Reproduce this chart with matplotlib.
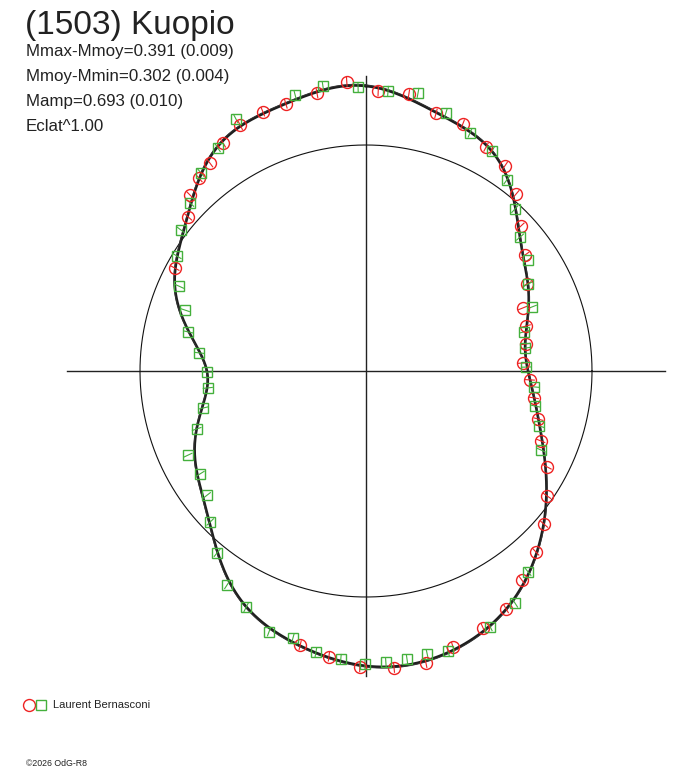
import numpy as np
import matplotlib.pyplot as plt

plt.rcParams['font.family'] = ['Liberation Sans', 'DejaVu Sans']

# Polar lightcurve of (1503) Kuopio: angle = rotational phase (deg, clockwise
# from top), radius = relative flux (mean flux = 1, the reference circle)
curve_phase = np.arange(0, 360, 15)
curve_flux = [1.261, 1.186, 1.119, 0.947, 0.823, 0.735, 0.717, 0.788,
              0.920, 1.084, 1.226, 1.301, 1.305, 1.243, 1.142, 0.973,
              0.867, 0.761, 0.704, 0.832, 0.969, 1.084, 1.208, 1.239]

red_phase = [310.9, 315.0, 319.1, 323.1, 327.9, 332.9, 338.3, 343.3, 350.0,
             356.2, 2.5, 8.8, 15.2, 21.4, 28.2, 34.1, 40.3, 46.9, 53.9, 61.6,
             68.1, 74.3, 80.4, 87.1, 93.1, 99.1, 105.6, 111.8, 117.9, 124.6,
             130.7, 136.8, 143.3, 149.5, 155.5, 162.5, 168.4, 174.6, 181.2,
             187.4, 193.5, 298.3]
red_flux = [1.040, 1.102, 1.128, 1.150, 1.190, 1.221, 1.235, 1.235, 1.248,
            1.283, 1.239, 1.239, 1.181, 1.173, 1.124, 1.097, 1.027, 0.938,
            0.872, 0.810, 0.748, 0.735, 0.717, 0.695, 0.726, 0.752, 0.792,
            0.832, 0.907, 0.973, 1.040, 1.097, 1.155, 1.221, 1.248, 1.279,
            1.319, 1.319, 1.310, 1.274, 1.248, 0.960]

green_phase = [332.7, 345.6, 351.4, 358.4, 4.5, 10.6, 320.2, 326.4, 313.7,
               307.3, 301.3, 294.4, 288.6, 282.4, 276.2, 269.6, 263.9, 257.2,
               251.1, 244.7, 238.2, 232.0, 225.9, 219.3, 213.0, 206.9, 200.4,
               195.3, 190.1, 185.0, 180.2, 176.1, 171.9, 167.8, 163.7, 154.1,
               95.4, 101.7, 107.6, 114.3, 141.1, 147.3, 17.2, 23.6, 29.8,
               36.4, 42.6, 49.0, 55.6, 61.8, 68.9, 76.1, 81.8, 88.6]
green_flux = [1.257, 1.261, 1.274, 1.257, 1.243, 1.252, 1.142, 1.186, 1.075,
              1.031, 0.978, 0.907, 0.845, 0.805, 0.743, 0.704, 0.704, 0.739,
              0.792, 0.872, 0.863, 0.894, 0.960, 1.040, 1.128, 1.173, 1.230,
              1.226, 1.265, 1.279, 1.296, 1.292, 1.288, 1.283, 1.292, 1.257,
              0.748, 0.765, 0.805, 0.850, 1.142, 1.221, 1.195, 1.150, 1.124,
              1.049, 0.973, 0.903, 0.867, 0.814, 0.788, 0.721, 0.712, 0.708]

title = "(1503) Kuopio"
info_lines = ["Mmax-Mmoy=0.391 (0.009)", "Mmoy-Mmin=0.302 (0.004)",
              "Mamp=0.693 (0.010)", "Eclat^1.00"]
observer = "Laurent Bernasconi"
credit = "\u00a92026 OdG-R8"

RED = '#ee2222'
GREEN = '#44b03c'


def to_xy(phase, flux):
    t = np.radians(np.asarray(phase))
    f = np.asarray(flux)
    return f * np.sin(t), f * np.cos(t)


def smooth_curve(flux, n=720):
    # periodic trigonometric interpolation through the sampled radii
    c = np.fft.rfft(flux)
    m = len(flux)
    big = np.zeros(n // 2 + 1, dtype=complex)
    big[:len(c)] = c
    big[m // 2] *= 0.5
    r = np.fft.irfft(big, n) * n / m
    phase = np.linspace(0, 360, n, endpoint=False)
    return np.append(phase, 360), np.append(r, r[0])


fig = plt.figure(figsize=(6.88, 7.68), dpi=100)
ax = fig.add_axes([0, 0, 1, 1])
scale = 226.0
ax.set_xlim(-366 / scale, 322 / scale)
ax.set_ylim(-397 / scale, 371 / scale)
ax.axis('off')

# axes cross and mean-flux circle
ax.plot([-1.323, 1.323], [0, 0], color='#222222', lw=1.0)
ax.plot([0, 0], [-1.35, 1.305], color='#222222', lw=1.0)
tt = np.linspace(0, 2 * np.pi, 400)
ax.plot(np.cos(tt), np.sin(tt), color='#111111', lw=0.8)

# fitted curve
ph, rr = smooth_curve(curve_flux)
cx, cy = to_xy(ph, rr)
ax.plot(cx, cy, color='#1e1e1e', lw=1.9, zorder=3)
ax.plot(cx * 1.004, cy * 1.004, color='#333333', lw=0.7, zorder=3)

# observations: small radial tick inside each marker
for phases, fluxes, mk, col, ms in [(red_phase, red_flux, 'o', RED, 8.6),
                                    (green_phase, green_flux, 's', GREEN, 6.6)]:
    x, y = to_xy(phases, fluxes)
    t = np.radians(np.asarray(phases))
    d = 0.02
    for xi, yi, ti in zip(x, y, t):
        ax.plot([xi - d * np.sin(ti), xi + d * np.sin(ti)],
                [yi - d * np.cos(ti), yi + d * np.cos(ti)],
                color=col, lw=0.8, zorder=4)
    ax.plot(x, y, ls='none', marker=mk, ms=ms, mfc='none', mec=col,
            mew=1.0, zorder=5)

# texts
fig.text(25 / 688, 1 - 34 / 768, title, fontsize=24, color='#222222',
         va='baseline')
for i, line in enumerate(info_lines):
    fig.text(26 / 688, 1 - (56 + 25 * i) / 768, line, fontsize=12.2,
             color='#222222', va='baseline')

# legend
fig.lines.append(plt.Line2D([29 / 688], [1 - 705 / 768], marker='o', ms=8.6,
                            mfc='none', mec=RED, mew=1.0,
                            transform=fig.transFigure))
fig.lines.append(plt.Line2D([41 / 688], [1 - 705 / 768], marker='s', ms=6.6,
                            mfc='none', mec=GREEN, mew=1.0,
                            transform=fig.transFigure))
fig.text(53 / 688, 1 - 705 / 768, observer, fontsize=8, color='#222222',
         va='center')
fig.text(26 / 688, 1 - 763 / 768, credit, fontsize=6.3, color='#222222',
         va='center')

fig.savefig('out.png', dpi=100, facecolor='white')
